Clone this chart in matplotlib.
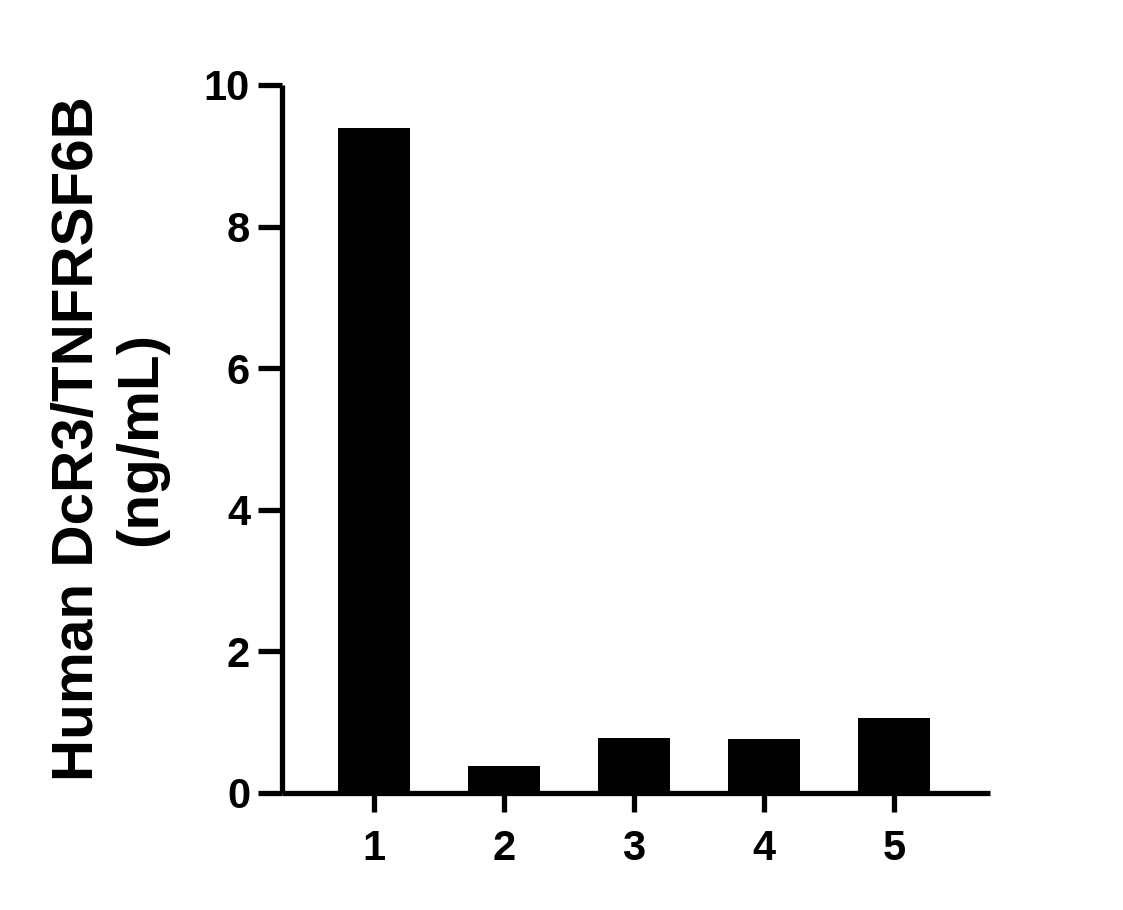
import numpy as np
from matplotlib import pyplot as plt

samples = ["1", "2", "3", "4", "5"]
conc = [9.39, 0.38, 0.78, 0.76, 1.06]
yticks = [0, 2, 4, 6, 8, 10]
ylabel = "Human DcR3/TNFRSF6B\n(ng/mL)"

plt.rcParams["font.family"] = ["Liberation Sans", "DejaVu Sans"]
plt.rcParams["font.weight"] = "bold"

fig = plt.figure(figsize=(11.23, 9.10), dpi=100)
ax = fig.add_axes([0.2511, 0.1286, 0.6305, 0.778])

x = np.arange(1, len(samples) + 1)
ax.bar(x, conc, width=0.55, color="black", edgecolor="black", linewidth=0)

ax.set_xlim(0.29, 5.74)
ax.set_ylim(0, 10)
ax.set_xticks(x)
ax.set_xticklabels(samples)
ax.set_yticks(yticks)

for side in ("top", "right"):
    ax.spines[side].set_visible(False)
for side in ("left", "bottom"):
    ax.spines[side].set_linewidth(3.8)
    ax.spines[side].set_capstyle("butt")

ax.tick_params(axis="both", which="major", width=3.8, length=17, labelsize=30,
               direction="out", pad=6)
ax.tick_params(axis="x", length=14, pad=12)

ax.set_ylabel(ylabel, fontsize=42, fontweight="bold", labelpad=26, linespacing=1.2)

fig.savefig("out.png", dpi=100)
